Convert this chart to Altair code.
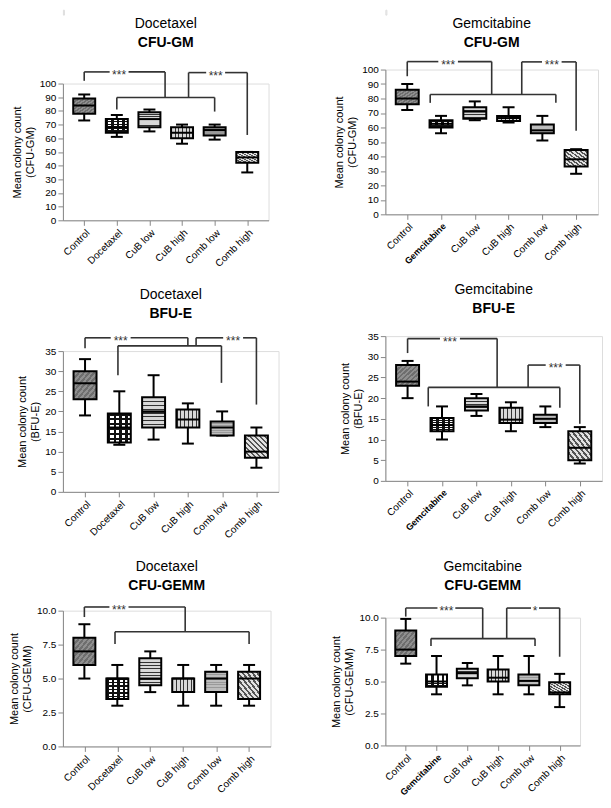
import json
import pandas as pd
import altair as alt

# ---------------- data ----------------
doc_groups = ["Control", "Docetaxel", "CuB low", "CuB high", "Comb low", "Comb high"]
gem_groups = ["Control", "Gemcitabine", "CuB low", "CuB high", "Comb low", "Comb high"]

# Docetaxel CFU-GM
p1_min = [73, 61, 65, 56, 59, 35]
p1_q1 = [78, 64, 68, 60, 62, 42]
p1_med = [84, 68, 74, 64, 66, 46]
p1_q3 = [89, 74, 79, 68, 68, 50]
p1_max = [92, 77, 81, 70, 70, 50]

# Gemcitabine CFU-GM
p2_min = [72, 56, 65, 63.5, 51, 28]
p2_q1 = [76, 60, 66, 64.5, 56, 33]
p2_med = [80, 62.5, 71, 66.5, 58, 38]
p2_q3 = [86, 65, 74, 68, 62, 44.5]
p2_max = [90, 68, 78, 74, 68, 45]

# Docetaxel BFU-E
p3_min = [19, 11.7, 13, 12, 14, 6]
p3_q1 = [23, 12.3, 16, 16, 14, 8.5]
p3_med = [27, 16, 20, 18, 16, 10]
p3_q3 = [30, 19.5, 23.5, 20.5, 17.5, 14]
p3_max = [33, 25, 29, 22, 20, 16]

# Gemcitabine BFU-E
p4_min = [20, 10, 15.7, 12, 13, 4.2]
p4_q1 = [23, 12, 17, 14, 14, 5]
p4_med = [24, 13.5, 18, 14.8, 15, 8]
p4_q3 = [28, 15.2, 20, 17.7, 16, 12]
p4_max = [29, 18, 21, 19, 18, 13]

# Docetaxel CFU-GEMM
p5_min = [5, 3, 4, 3, 3, 3]
p5_q1 = [6, 3.5, 4.5, 4, 4, 3.5]
p5_med = [7, 5, 5, 5, 5, 5]
p5_q3 = [8, 5, 6.5, 5, 5.5, 5.5]
p5_max = [9, 6, 7, 6, 6, 6]

# Gemcitabine CFU-GEMM
p6_min = [6.4, 4.0, 4.7, 4.0, 4.0, 3.0]
p6_q1 = [7.0, 4.6, 5.25, 5.0, 4.7, 4.0]
p6_med = [7.5, 5.0, 5.65, 5.3, 5.05, 4.15]
p6_q3 = [9.0, 5.55, 6.0, 5.95, 5.55, 4.95]
p6_max = [9.9, 7.0, 6.45, 7.0, 7.0, 5.6]

# significance brackets (x in group-index units, y in data units)
p1_left = dict(top=108.5, start=102, xend=2.48, end=89.8, star=1.07, label="***")
p1_lower = dict(y=89.8, x0=1.0, x1=4.0, e0=81, e1=79.5)
p1_right = dict(x0=3.2, x1=5.0, top=108, end=62.4, star=4.03, label="***")

p2_left = dict(top=105.5, start=95.4, xend=2.5, end=82.8, star=1.21, label="***")
p2_lower = dict(y=82.8, x0=0.68, x1=4.4, e0=77, e1=77)
p2_right = dict(x0=3.39, x1=5.0, top=105.3, end=57.7, star=4.28, label="***")

p3_left = dict(top=38.3, start=35.7, xend=3.0, end=36.3, star=1.04, label="***")
p3_lower = dict(y=36.3, x0=0.96, x1=3.98, e0=29, e1=27.1)
p3_right = dict(x0=3.24, x1=5.0, top=38.3, end=21.7, star=4.32, label="***")

p4_left = dict(top=34.4, start=30.9, xend=2.6, end=22.6, star=1.23, label="***")
p4_lower = dict(y=22.6, x0=0.6, x1=4.42, e0=18, e1=17.7)
p4_right = dict(x0=3.5, x1=5.0, top=28, end=13.8, star=4.3, label="***")

p5_left = dict(top=10.27, start=9.53, xend=3.06, end=8.45, star=1.05, label="***")
p5_lower = dict(y=8.45, x0=0.93, x1=5.0, e0=7.54, e1=7.54)
p5_right = None

p6_left = dict(top=10.75, start=10.08, xend=2.5, end=8.36, star=1.32, label="***")
p6_lower = dict(y=8.36, x0=0.82, x1=4.2, e0=7.79, e1=7.79)
p6_right = dict(x0=3.28, x1=5.0, top=10.75, end=6.94, star=4.2, label="*")

panels = [
    dict(drug="Docetaxel", assay="CFU-GM", groups=doc_groups,
         stats=(p1_min, p1_q1, p1_med, p1_q3, p1_max), ymax=100, ystep=10, fmt="d",
         left=p1_left, lower=p1_lower, right=p1_right, w=206, h=137, off=19),
    dict(drug="Gemcitabine", assay="CFU-GM", groups=gem_groups,
         stats=(p2_min, p2_q1, p2_med, p2_q3, p2_max), ymax=100, ystep=10, fmt="d",
         left=p2_left, lower=p2_lower, right=p2_right, w=213, h=145, off=9),
    dict(drug="Docetaxel", assay="BFU-E", groups=doc_groups,
         stats=(p3_min, p3_q1, p3_med, p3_q3, p3_max), ymax=35, ystep=5, fmt="d",
         left=p3_left, lower=p3_lower, right=p3_right, w=216, h=141, off=14),
    dict(drug="Gemcitabine", assay="BFU-E", groups=gem_groups,
         stats=(p4_min, p4_q1, p4_med, p4_q3, p4_max), ymax=35, ystep=5, fmt="d",
         left=p4_left, lower=p4_lower, right=p4_right, w=217, h=145, off=15),
    dict(drug="Docetaxel", assay="CFU-GEMM", groups=doc_groups,
         stats=(p5_min, p5_q1, p5_med, p5_q3, p5_max), ymax=10, ystep=2.5, fmt=".1f",
         left=p5_left, lower=p5_lower, right=p5_right, w=208, h=136, off=11),
    dict(drug="Gemcitabine", assay="CFU-GEMM", groups=gem_groups,
         stats=(p6_min, p6_q1, p6_med, p6_q3, p6_max), ymax=10, ystep=2.5, fmt=".1f",
         left=p6_left, lower=p6_lower, right=p6_right, w=195, h=128, off=12),
]

FONT = "Liberation Sans"


# ---------------- styling helpers ----------------
def stripes(n, frac, dark, light, x1, y1, x2, y2):
    stops = []
    for i in range(n):
        a, b, c = i / n, (i + frac) / n, (i + 1) / n
        stops += [alt.GradientStop(offset=a, color=dark), alt.GradientStop(offset=b, color=dark),
                  alt.GradientStop(offset=b, color=light), alt.GradientStop(offset=c, color=light)]
    return alt.LinearGradient(gradient="linear", stops=stops, x1=x1, y1=y1, x2=x2, y2=y2)


# fill layers per group position (list of fills drawn on top of each other)
patterns = [
    ["#8f8f8f", stripes(9, 0.5, "#6e6e6e", "rgba(0,0,0,0)", 0, 0, 1, 1)],      # Control
    ["white", stripes(6, 0.45, "#111111", "rgba(0,0,0,0)", 0, 0, 0, 1),
     stripes(4, 0.45, "#111111", "rgba(0,0,0,0)", 0, 0, 1, 0)],                 # drug alone
    [stripes(8, 0.3, "#333333", "#d8d8d8", 0, 0, 0, 1)],                          # CuB low
    [stripes(6, 0.3, "#333333", "#d8d8d8", 0, 0, 1, 0)],                          # CuB high
    ["#bdbdbd", stripes(8, 0.35, "#9a9a9a", "rgba(0,0,0,0)", 0, 0, 0, 1)],       # Comb low
    [stripes(9, 0.45, "#555555", "#e2e2e2", 0, 1, 1, 0)],                         # Comb high
]


def bracket_segments(p):
    segs = []
    L, D, R = p["left"], p["lower"], p["right"]

    def hline(x0, x1, y, star, label):
        g = 0.29 if label == "***" else 0.13
        segs.append((x0, y, star - g, y))
        segs.append((star + g, y, x1, y))

    segs.append((0, L["start"], 0, L["top"]))
    hline(0, L["xend"], L["top"], L["star"], L["label"])
    segs.append((L["xend"], L["top"], L["xend"], L["end"]))
    segs.append((D["x0"], D["y"], D["x1"], D["y"]))
    segs.append((D["x0"], D["y"], D["x0"], D["e0"]))
    segs.append((D["x1"], D["y"], D["x1"], D["e1"]))
    stars = [(L["star"], L["top"], L["label"])]
    if R is not None:
        segs.append((R["x0"], D["y"], R["x0"], R["top"]))
        hline(R["x0"], R["x1"], R["top"], R["star"], R["label"])
        segs.append((R["x1"], R["top"], R["x1"], R["end"]))
        stars.append((R["star"], R["top"], R["label"]))
    seg_df = pd.DataFrame(segs, columns=["sx", "sy", "sx2", "sy2"])
    star_df = pd.DataFrame(stars, columns=["sx", "sy", "label"])
    return seg_df, star_df


def make_panel(p):
    groups = p["groups"]
    mn, q1, md, q3, mx = p["stats"]
    df = pd.DataFrame({"group": groups, "idx": list(range(len(groups))),
                       "mn": mn, "q1": q1, "md": md, "q3": q3, "mx": mx})
    step = p["w"] / 6.0
    boxw = round(step * 0.64)
    capw = round(step * 0.34)

    xscale = alt.Scale(domain=[-0.5, 5.5], nice=False, zero=False)
    yscale = alt.Scale(domain=[0, p["ymax"]], nice=False, zero=True)
    nt = int(round(p["ymax"] / p["ystep"]))
    yvals = [round(i * p["ystep"], 2) for i in range(nt + 1)]
    wt = "normal"
    fs = 10
    if groups[1] == "Gemcitabine":
        wt = {"condition": {"test": "datum.value == 1", "value": "bold"}, "value": "normal"}
        fs = {"condition": {"test": "datum.value == 1", "value": 9}, "value": 10}
    xaxis = alt.Axis(values=list(range(6)), labelExpr=json.dumps(groups) + "[datum.value]",
                     title=None, labelAngle=315, grid=False, labelFontWeight=wt,
                     labelFontSize=fs, labelOverlap=False)
    yaxis = alt.Axis(values=yvals, format=p["fmt"], grid=False, labelOverlap=False,
                     titleFontWeight="normal", titleFont=FONT, titleFontSize=11,
                     title=["Mean colony count", "(" + p["assay"] + ")"])

    def X(f):
        return alt.X(f, type="quantitative", scale=xscale, axis=xaxis)

    def Y(f):
        return alt.Y(f, type="quantitative", scale=yscale, axis=yaxis)

    base = alt.Chart(df)
    layers = []
    layers.append(base.mark_rule(color="black", strokeWidth=2).encode(
        x=X("idx"), y=Y("mn"), y2="mx"))
    layers.append(base.mark_tick(orient="horizontal", size=capw, thickness=2, color="black",
                                 opacity=1).encode(x=X("idx"), y=Y("mn")))
    layers.append(base.mark_tick(orient="horizontal", size=capw, thickness=2, color="black",
                                 opacity=1).encode(x=X("idx"), y=Y("mx")))
    for k, g in enumerate(groups):
        for fill in patterns[k]:
            layers.append(base.transform_filter(alt.datum.group == g).mark_bar(
                size=boxw, fill=fill, strokeWidth=0).encode(x=X("idx"), y=Y("q1"), y2="q3"))
    layers.append(base.mark_bar(size=boxw, fillOpacity=0, stroke="black", strokeWidth=2).encode(
        x=X("idx"), y=Y("q1"), y2="q3"))
    layers.append(base.mark_tick(orient="horizontal", size=boxw, thickness=2, color="black",
                                 opacity=1).encode(x=X("idx"), y=Y("md")))

    seg_df, star_df = bracket_segments(p)
    layers.append(alt.Chart(seg_df).mark_rule(color="#333333", strokeWidth=1.6, clip=False).encode(
        x=X("sx"), y=Y("sy"), x2="sx2", y2="sy2"))
    layers.append(alt.Chart(star_df).mark_text(font=FONT, fontSize=12, color="#333333",
                                               baseline="middle", dy=3, clip=False).encode(
        x=X("sx"), y=Y("sy"), text="label:N"))

    return alt.layer(*layers).properties(
        width=p["w"], height=p["h"],
        title=alt.TitleParams(text=p["drug"], subtitle=p["assay"], anchor="middle",
                              font=FONT, fontSize=14, fontWeight="normal", color="black",
                              subtitleFont=FONT, subtitleFontSize=14, subtitleFontWeight="bold",
                              subtitleColor="black", subtitlePadding=5, offset=p["off"]))


def spacer():
    # invisible anchor so that both columns start from their top edge
    return alt.Chart(pd.DataFrame({"v": [0]})).mark_point(
        opacity=0, fillOpacity=0, strokeOpacity=0, strokeWidth=0, size=1).encode(
        x=alt.X("v:Q", axis=None), y=alt.Y("v:Q", axis=None)).properties(width=1, height=5)


charts = [make_panel(p) for p in panels]
left_col = alt.vconcat(
    spacer(),
    alt.vconcat(alt.vconcat(charts[0], charts[2], spacing=18), charts[4], spacing=18),
    spacing=0)
right_col = alt.vconcat(
    spacer(),
    alt.vconcat(alt.vconcat(charts[1], charts[3], spacing=15), charts[5], spacing=25),
    spacing=0)
chart = alt.hconcat(left_col, right_col, spacing=51).configure_view(stroke=None).configure_axis(
    domainColor="black", domainWidth=2, tickColor="black", tickWidth=2, tickSize=5,
    labelColor="black", labelFont=FONT, labelFontSize=10, labelPadding=2,
    titleColor="black", titleFont=FONT, titleFontSize=11, titleFontWeight="normal",
    titlePadding=8
).configure(background="white", padding=0)

chart.save("out.html", embed_options={"renderer": "svg", "actions": False})
